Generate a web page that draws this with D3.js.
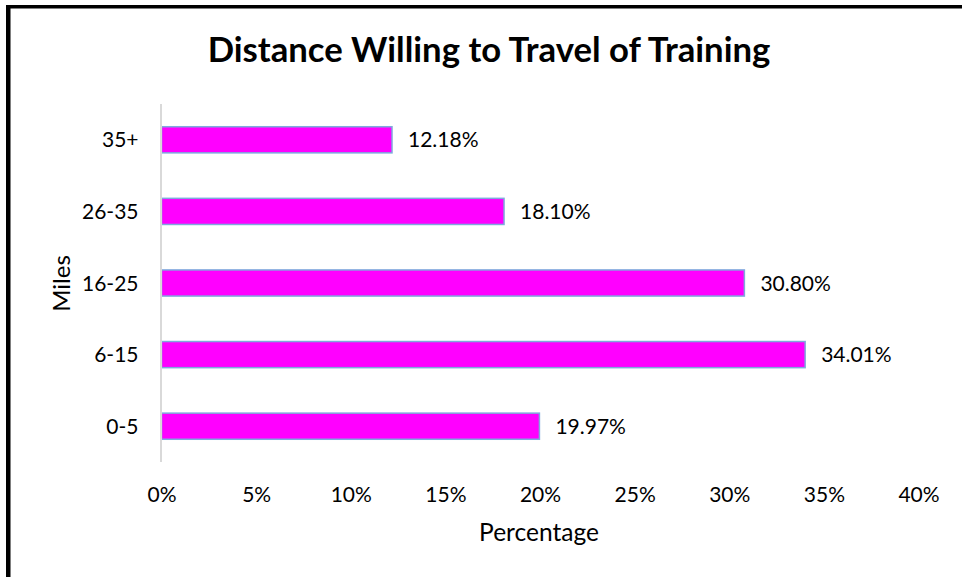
<!DOCTYPE html>
<html>
<head>
<meta charset="utf-8">
<script src="https://cdn.jsdelivr.net/npm/d3@7"></script>
<style>
  html, body { margin: 0; padding: 0; background: #fff; }
  svg { display: block; }
  text { font-family: Lato, "Open Sans", sans-serif; fill: #000; }
</style>
</head>
<body>
<svg id="chart" width="962" height="577"></svg>
<script>
// Share of respondents by distance (miles) they would travel for training
const categories = ["0-5", "6-15", "16-25", "26-35", "35+"];
const values = [19.97, 34.01, 30.80, 18.10, 12.18];
const xTicks = [0, 5, 10, 15, 20, 25, 30, 35, 40];
const titleText = "Distance Willing to Travel of Training";
const xTitle = "Percentage";
const yTitle = "Miles";

const W = 962, H = 577;
const plot = { left: 161.5, right: 918.5, top: 104, bottom: 462 };

const svg = d3.select("#chart");

// frame edges
svg.append("rect").attr("x", 6).attr("y", 5).attr("width", W - 6).attr("height", 3.5).attr("fill", "#000");
svg.append("rect").attr("x", 6).attr("y", 5).attr("width", 4.5).attr("height", H - 5).attr("fill", "#000");

const x = d3.scaleLinear().domain([0, 40]).range([plot.left, plot.right]);
const y = d3.scaleBand()
  .domain(categories.slice().reverse())
  .range([plot.top, plot.bottom])
  .paddingInner(0.635)
  .paddingOuter(0.3175);

const rows = categories.map((c, i) => ({ c, v: values[i] }));

// bars
svg.append("g").selectAll("rect")
  .data(rows)
  .join("rect")
  .attr("x", x(0))
  .attr("y", d => y(d.c))
  .attr("width", d => x(d.v) - x(0))
  .attr("height", y.bandwidth())
  .attr("fill", "#FF00FF")
  .attr("stroke", "#7FA9DD")
  .attr("stroke-width", 1.5);

// value labels
svg.append("g").selectAll("text")
  .data(rows)
  .join("text")
  .attr("x", d => x(d.v) + 16)
  .attr("y", d => y(d.c) + y.bandwidth() / 2 + 7.5)
  .attr("font-size", 21)
  .text(d => d.v.toFixed(2) + "%");

// vertical axis line
svg.append("line")
  .attr("x1", x(0) - 0.5).attr("x2", x(0) - 0.5)
  .attr("y1", plot.top).attr("y2", plot.bottom)
  .attr("stroke", "#D9D9D9").attr("stroke-width", 2);

// category labels
const yAxis = svg.append("g")
  .attr("transform", `translate(${x(0)},0)`)
  .call(d3.axisLeft(y).tickSize(0).tickPadding(23));
yAxis.select(".domain").remove();
yAxis.selectAll("text")
  .attr("font-size", 21)
  .attr("font-family", "Lato, 'Open Sans', sans-serif")
  .attr("fill", "#000")
  .attr("dy", "0.36em");

// x tick labels
const xAxis = svg.append("g")
  .attr("transform", `translate(0,${502})`)
  .call(d3.axisBottom(x).tickValues(xTicks).tickFormat(d => d + "%").tickSize(0).tickPadding(0));
xAxis.select(".domain").remove();
xAxis.selectAll("text")
  .attr("font-size", 21)
  .attr("font-family", "Lato, 'Open Sans', sans-serif")
  .attr("fill", "#000")
  .attr("dy", 0);

// titles
svg.append("text")
  .attr("x", 489).attr("y", 62)
  .attr("text-anchor", "middle")
  .attr("font-size", 34.7)
  .attr("font-weight", "bold")
  .text(titleText);

svg.append("text")
  .attr("x", 539).attr("y", 541)
  .attr("text-anchor", "middle")
  .attr("font-size", 24.5)
  .text(xTitle);

svg.append("text")
  .attr("transform", "translate(70,283.5) rotate(-90)")
  .attr("text-anchor", "middle")
  .attr("font-size", 24)
  .text(yTitle);
</script>
</body>
</html>
